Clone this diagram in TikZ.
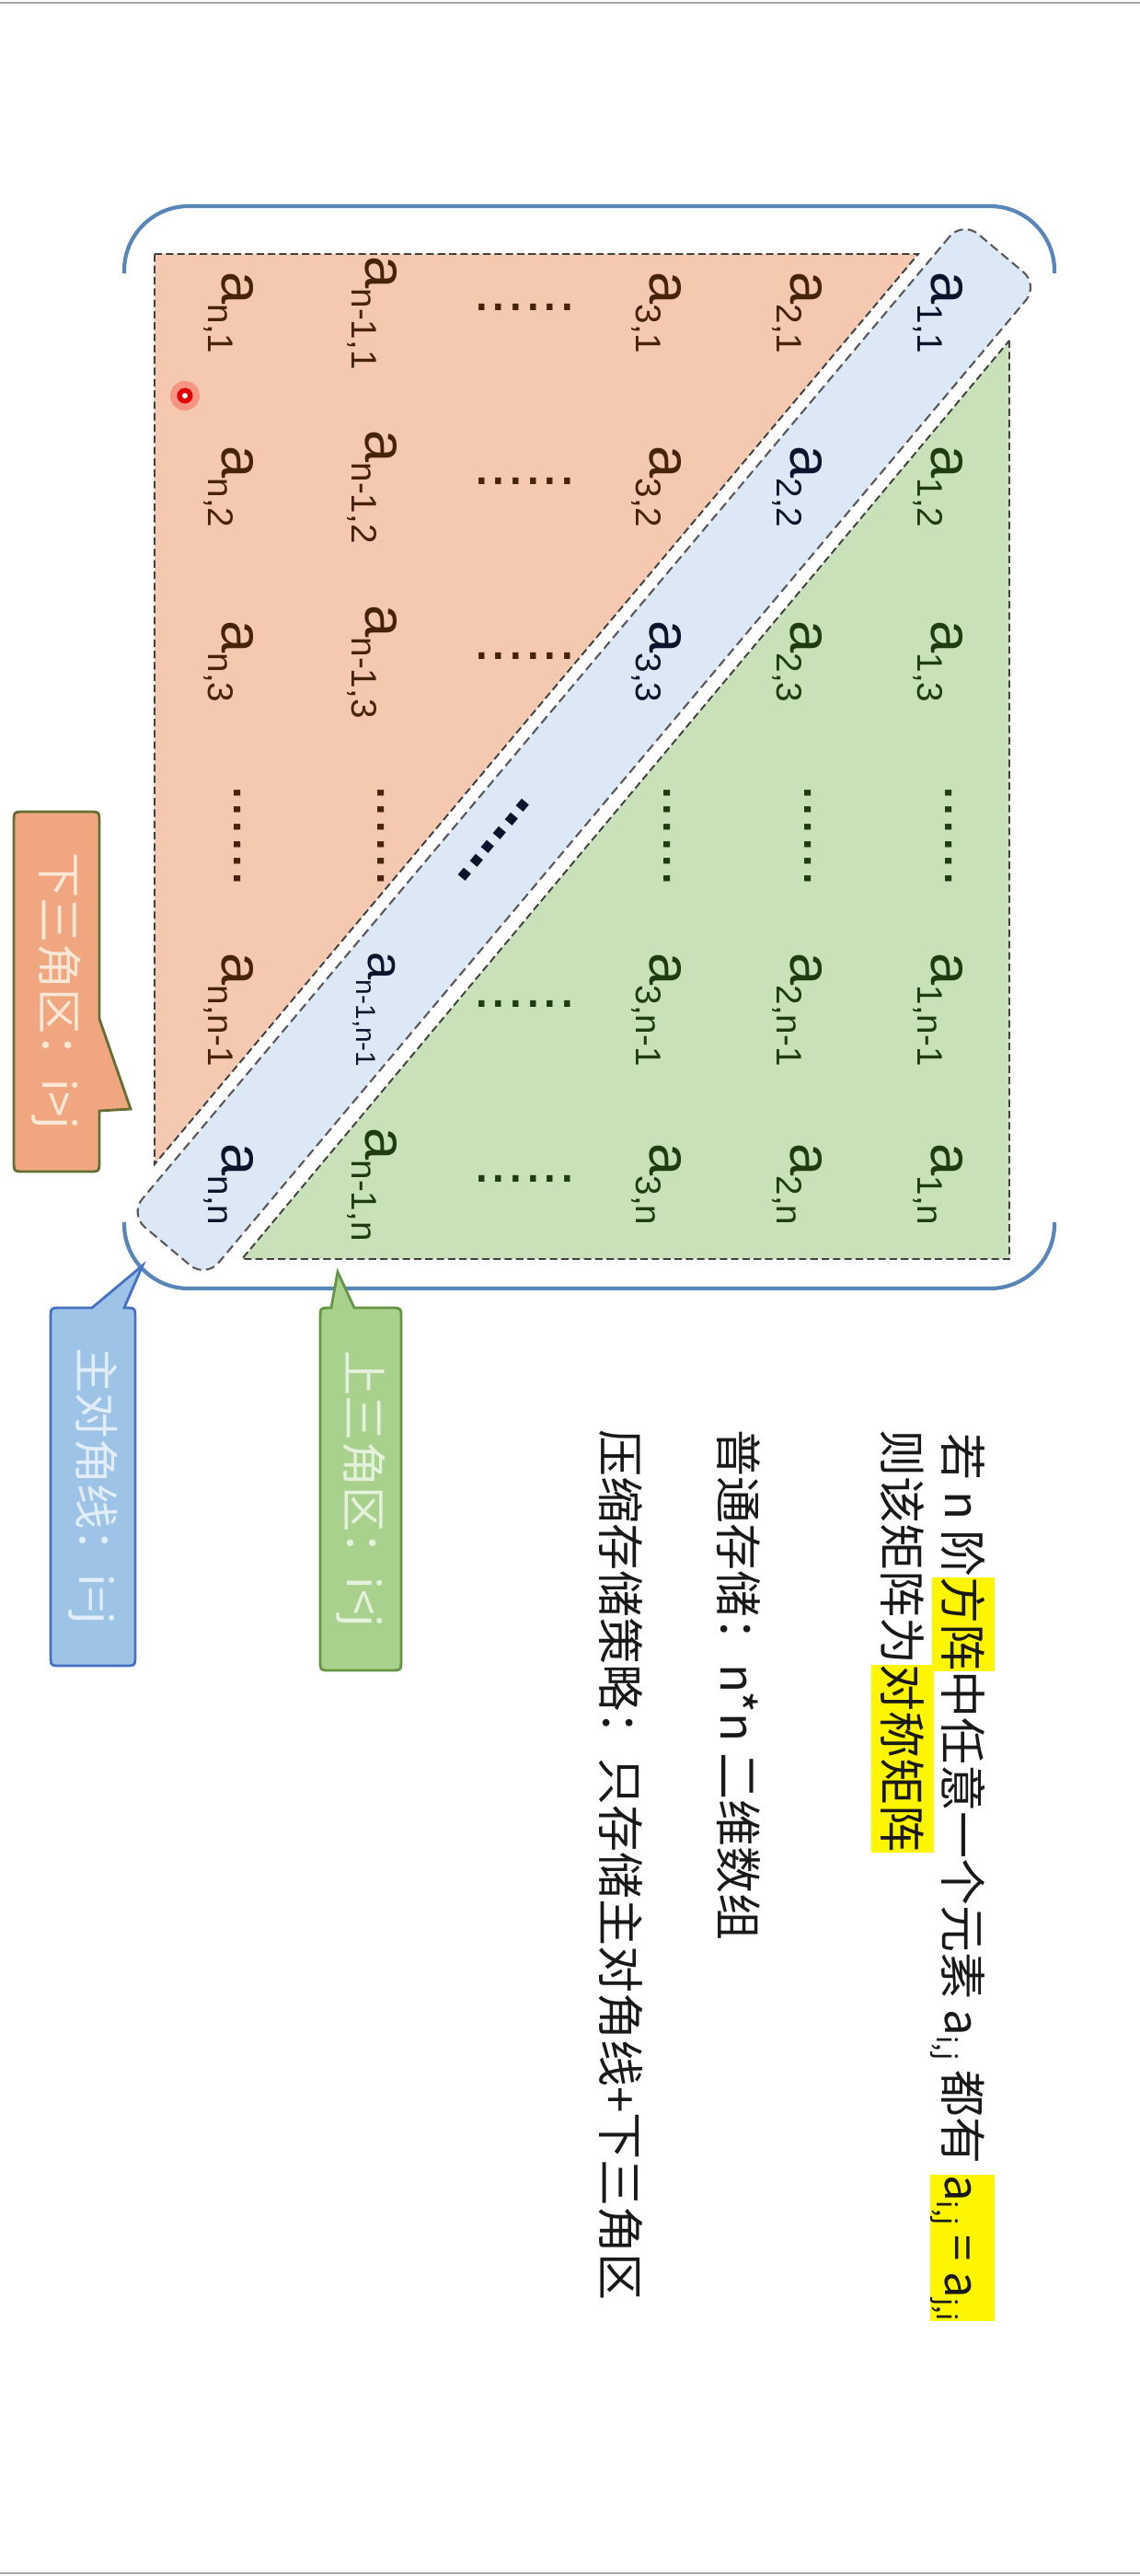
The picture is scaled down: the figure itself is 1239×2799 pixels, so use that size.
\documentclass[tikz,border=0pt]{standalone}
\usepackage{fontspec}
\setmainfont{Liberation Sans}
\newfontfamily\cjk{Noto Sans CJK SC}
\usepackage{tikz}

\definecolor{lowfill}{RGB}{245,200,176}
\definecolor{upfill}{RGB}{201,225,184}
\definecolor{diagfill}{RGB}{220,232,245}
\definecolor{lowtxt}{RGB}{70,35,10}
\definecolor{uptxt}{RGB}{30,60,15}
\definecolor{diagtxt}{RGB}{10,20,45}
\definecolor{bracecol}{RGB}{88,134,184}
\definecolor{lowbox}{RGB}{240,166,126}
\definecolor{lowline}{RGB}{100,110,50}
\definecolor{lowlt}{RGB}{252,230,214}
\definecolor{diagbox}{RGB}{157,195,230}
\definecolor{diagline}{RGB}{70,114,196}
\definecolor{diaglt}{RGB}{225,237,248}
\definecolor{upbox}{RGB}{169,209,142}
\definecolor{upline}{RGB}{100,150,70}
\definecolor{uplt}{RGB}{228,241,219}
\definecolor{hlyellow}{RGB}{255,245,0}

\newcommand{\ent}[1]{a\raisebox{-4pt}{\fontsize{11}{13}\selectfont #1}}
\newcommand{\smallent}[1]{a\raisebox{-3.5pt}{\fontsize{8.5}{10}\selectfont #1}}
\newcommand{\aij}[1]{a\raisebox{-2.5pt}{\fontsize{8.5}{10}\selectfont #1}}
\newcommand{\hl}[1]{{\setlength{\fboxsep}{0pt}\colorbox{hlyellow}{\rule[-0.28em]{0pt}{1.32em}#1}}}

\begin{document}
\begin{tikzpicture}[
x=0.01cm, y=-0.01cm,
region/.style={draw=black!75, line width=0.55pt, dash pattern=on 2.3pt off 1.2pt},
diagband/.style={rectangle, rounded corners=0.22cm, fill=diagfill, draw=black!65,
  line width=0.6pt, dash pattern=on 2.8pt off 1.5pt},
brace/.style={draw=bracecol, line width=1.2pt, rounded corners=0.7cm},
elem/.style={rotate=-90, anchor=base, inner sep=0pt, font=\fontsize{18}{20}\selectfont},
lowel/.style={elem, text=lowtxt},
upel/.style={elem, text=uptxt},
diagel/.style={elem, text=diagtxt},
dotsx/.style={inner sep=0pt, anchor=center, font=\fontsize{19}{20}\selectfont},
callout/.style={line width=0.8pt},
calltxt/.style={rotate=-90, inner sep=0pt, font=\cjk\fontsize{14}{16}\selectfont},
note/.style={rotate=-90, anchor=west, inner sep=0pt, text=black!90, font=\cjk\fontsize{14.5}{17}\selectfont}
]
\useasboundingbox (0,0) rectangle (1239,2799);
\fill[white] (0,0) rectangle (1239,2799);
\draw[gray!70, line width=0.6pt] (0,3) -- (1239,3);
\draw[gray!70, line width=0.6pt] (0,2796) -- (1239,2796);

% brackets round the matrix
\draw[brace] (135,297) -- (135,224) -- (1146,224) -- (1146,297);
\draw[brace] (135,1328) -- (135,1400) -- (1146,1400) -- (1146,1328);

% three zones
\draw[region, fill=lowfill] (168,276) -- (998,276) -- (168,1265) -- cycle;
\draw[region, fill=upfill] (1097,370) -- (1097,1368) -- (263,1368) -- cycle;
\node[diagband, minimum width=14.08cm, minimum height=1.08cm, rotate=50] (diag) at (634.8,814.5) {};

% main diagonal
\node[diagel] (a11) at (1012,340) {\ent{1,1}};
\node[diagel] (a22) at (859,529) {\ent{2,2}};
\node[diagel] (a33) at (706,719) {\ent{3,3}};
\node[diagel, font=\fontsize{15.5}{17}\selectfont] (ann1) at (400,1097) {\smallent{n-1,n-1}};
\node[diagel] (ann) at (241,1287) {\ent{n,n}};
\node[dotsx, text=diagtxt, rotate=-130, font=\bfseries\fontsize{20}{22}\selectfont] (ddiag) at (537,913) {......};

% upper triangle
\node[upel] (a12) at (1012,529) {\ent{1,2}};
\node[upel] (a13) at (1012,719) {\ent{1,3}};
\node[upel] (a1n1) at (1012,1097) {\ent{1,n-1}};
\node[upel] (a1n) at (1012,1287) {\ent{1,n}};
\node[upel] (a23) at (859,719) {\ent{2,3}};
\node[upel] (a2n1) at (859,1097) {\ent{2,n-1}};
\node[upel] (a2n) at (859,1287) {\ent{2,n}};
\node[upel] (a3n1) at (706,1097) {\ent{3,n-1}};
\node[upel] (a3n) at (706,1287) {\ent{3,n}};
\node[upel] (an1n) at (397,1287) {\ent{n-1,n}};
\node[dotsx, text=uptxt, rotate=-90] (du1) at (1031,908) {......};
\node[dotsx, text=uptxt, rotate=-90] (du2) at (878,908) {......};
\node[dotsx, text=uptxt, rotate=-90] (du3) at (725,908) {......};
\node[dotsx, text=uptxt] (du4) at (570,1091) {......};
\node[dotsx, text=uptxt] (du5) at (570,1281) {......};

% lower triangle
\node[lowel] (a21) at (859,340) {\ent{2,1}};
\node[lowel] (a31) at (706,340) {\ent{3,1}};
\node[lowel] (a32) at (706,529) {\ent{3,2}};
\node[lowel] (an11) at (397,340) {\ent{n-1,1}};
\node[lowel] (an12) at (397,529) {\ent{n-1,2}};
\node[lowel] (an13) at (397,719) {\ent{n-1,3}};
\node[lowel] (an1) at (241,340) {\ent{n,1}};
\node[lowel] (an2) at (241,529) {\ent{n,2}};
\node[lowel] (an3) at (241,719) {\ent{n,3}};
\node[lowel] (ann1b) at (241,1097) {\ent{n,n-1}};
\node[dotsx, text=lowtxt] (dl1) at (570,334) {......};
\node[dotsx, text=lowtxt] (dl2) at (570,523) {......};
\node[dotsx, text=lowtxt] (dl3) at (570,713) {......};
\node[dotsx, text=lowtxt, rotate=-90] (dl4) at (414,908) {......};
\node[dotsx, text=lowtxt, rotate=-90] (dl5) at (258,908) {......};

% pointer
\fill[red, opacity=0.25] (201,430) circle[radius=0.16cm];
\fill[red!90!black] (201,430) circle[radius=0.085cm];
\fill[white] (201,430) circle[radius=0.03cm];

% callouts
\draw[callout, fill=lowbox, draw=lowline] (15,894) .. controls (15,882) .. (27,882) -- (96,882)
  .. controls (108,882) .. (108,894) -- (108,1107) -- (142,1205) -- (108,1207) -- (108,1261)
  .. controls (108,1273) .. (96,1273) -- (27,1273) .. controls (15,1273) .. (15,1261) -- cycle;
\node[calltxt, text=lowlt] (lowlab) at (61.5,1077) {下三角区：i>j};

\draw[callout, fill=diagbox, draw=diagline] (55,1433) .. controls (55,1421) .. (67,1421) -- (100,1421)
  -- (155,1375) -- (135,1421) .. controls (147,1421) .. (147,1433) -- (147,1798)
  .. controls (147,1810) .. (135,1810) -- (67,1810) .. controls (55,1810) .. (55,1798) -- cycle;
\node[calltxt, text=diaglt] (diaglab) at (101,1615) {主对角线：i=j};

\draw[callout, fill=upbox, draw=upline] (348,1433) .. controls (348,1421) .. (360,1421) -- (367,1382)
  -- (385,1421) -- (424,1421) .. controls (436,1421) .. (436,1433) -- (436,1803)
  .. controls (436,1815) .. (424,1815) -- (360,1815) .. controls (348,1815) .. (348,1803) -- cycle;
\node[calltxt, text=uplt] (uplab) at (392,1618) {上三角区：i<j};

% notes
\node[note] (line1) at (1046,1557) {若 n 阶\hl{方阵}中任意一个元素 \aij{i,j} 都有 \hl{\aij{i,j} = \aij{j,i}}};
\node[note] (line2) at (981,1553) {则该矩阵为\hl{对称矩阵}};
\node[note] (line3) at (803,1553) {普通存储：n*n 二维数组};
\node[note] (line4) at (675,1553) {压缩存储策略：只存储主对角线+下三角区};

\end{tikzpicture}
\end{document}
